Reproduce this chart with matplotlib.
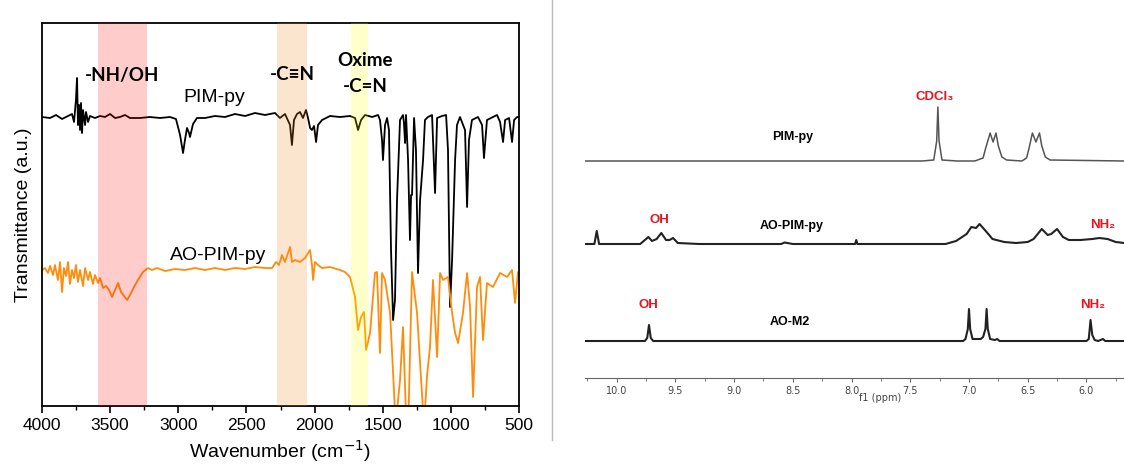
#IR and 1H NMR spectra of PIM-py / AO-PIM-py

import matplotlib
matplotlib.use("Agg")
import matplotlib.pyplot as plt
from matplotlib.lines import Line2D

#FTIR data, wavenumber (cm-1) and transmittance (a.u.)
pim_wn = [4000, 3941, 3897, 3853, 3809, 3780, 3765, 3751, 3743, 3736, 3728, 3721, 3714, 3706,
          3699, 3684, 3677, 3662, 3648, 3611, 3574, 3538, 3501, 3464, 3428, 3391, 3354, 3281,
          3208, 3134, 3061, 3017, 2987, 2965, 2951, 2936, 2921, 2914, 2892, 2863, 2804, 2731,
          2657, 2584, 2510, 2437, 2364, 2290, 2254, 2217, 2180, 2166, 2151, 2129, 2107, 2085,
          2063, 2048, 2033, 2019, 2004, 1989, 1975, 1945, 1887, 1813, 1740, 1703, 1681, 1659,
          1630, 1578, 1534, 1520, 1505, 1498, 1483, 1468, 1454, 1439, 1424, 1410, 1395, 1373,
          1351, 1344, 1336, 1329, 1314, 1300, 1292, 1285, 1278, 1270, 1256, 1241, 1226, 1204,
          1190, 1168, 1138, 1116, 1101, 1065, 1035, 1021, 1006, 991, 969, 955, 933, 896, 881,
          867, 845, 801, 771, 757, 735, 691, 661, 639, 617, 602, 573, 551, 536, 514, 500]
pim_t = [289, 288, 291, 287, 290, 292, 284, 306, 328, 281, 301, 276, 303, 273,
         296, 281, 294, 284, 290, 288, 290, 289, 292, 288, 289, 291, 288, 288,
         289, 288, 289, 287, 271, 253, 266, 278, 273, 269, 282, 288, 288, 290,
         289, 292, 290, 293, 291, 293, 288, 292, 281, 261, 286, 292, 294, 288,
         296, 288, 278, 276, 280, 264, 281, 286, 290, 289, 290, 288, 276, 286,
         291, 289, 291, 286, 266, 246, 281, 288, 276, 156, 86, 106, 206, 286,
         291, 283, 263, 291, 246, 166, 211, 211, 246, 288, 256, 133, 206, 246,
         286, 289, 291, 213, 288, 290, 291, 256, 99, 146, 246, 281, 289, 276, 199,
         266, 286, 289, 281, 248, 286, 289, 291, 284, 264, 286, 288, 264, 286, 289, 289]

ao_wn = [4000, 3978, 3956, 3941, 3919, 3905, 3883, 3868, 3853, 3839, 3824, 3809, 3795, 3780,
         3765, 3751, 3736, 3721, 3699, 3684, 3662, 3648, 3626, 3611, 3589, 3574, 3552, 3530,
         3508, 3486, 3464, 3442, 3420, 3398, 3376, 3354, 3325, 3296, 3259, 3222, 3193, 3156,
         3097, 3024, 2951, 2877, 2804, 2731, 2657, 2584, 2510, 2437, 2364, 2312, 2283, 2261,
         2239, 2217, 2180, 2166, 2143, 2107, 2070, 2033, 2019, 2011, 1997, 1975, 1945, 1887,
         1813, 1777, 1740, 1703, 1681, 1659, 1637, 1622, 1593, 1557, 1542, 1520, 1505, 1483,
         1446, 1410, 1395, 1373, 1351, 1330, 1310, 1285, 1248, 1226, 1204, 1190, 1175, 1153,
         1131, 1101, 1079, 1057, 1021, 991, 969, 947, 911, 881, 859, 837, 808, 786, 764, 735,
         691, 639, 588, 551, 529, 507, 500]
ao_t = [136, 138, 133, 140, 131, 141, 126, 144, 114, 138, 130, 144, 122, 136,
        128, 141, 124, 136, 120, 138, 126, 134, 122, 131, 123, 128, 118, 120,
        116, 109, 116, 123, 114, 110, 106, 111, 119, 126, 134, 138, 136, 138,
        135, 137, 136, 138, 136, 138, 136, 138, 137, 139, 138, 138, 144, 141,
        151, 144, 159, 144, 146, 144, 148, 156, 141, 126, 144, 141, 138, 139,
        136, 134, 129, 109, 76, 89, 94, 56, 73, 133, 134, 53, 133, 126,
        93, -5, -5, 26, 79, -5, -5, 134, 93, 43, -5, -5, 30, 59,
        126, 49, 133, 126, 129, 93, 73, 63, 93, 133, 99, 9, 119, 129, 66, 123,
        119, 133, 129, 136, 103, 134, 133]

#shaded bands (cm-1)
bands = [(3590, 3230), (2275, 2055), (1730, 1610)]
band_colors = ['red', '#f08c28', 'yellow']
band_alpha = [0.2, 0.22, 0.2]

#1H NMR data, ppm and height above each baseline
nmr1_ppm = [10.27, 7.40, 7.30, 7.275, 7.265, 7.255, 7.23, 7.10, 6.95, 6.88, 6.86, 6.82, 6.795,
            6.77, 6.75, 6.72, 6.68, 6.55, 6.51, 6.49, 6.46, 6.43, 6.40, 6.38, 6.35, 6.31, 5.68]
nmr1_h = [0, 0, 1, 20, 54, 20, 1, 0, 0, 3, 12, 28, 19,
          28, 15, 4, 1, 0, 3, 12, 28, 19, 28, 15, 4, 1, 0]

nmr2_ppm = [10.27, 10.19, 10.17, 10.15, 9.80, 9.75, 9.73, 9.70, 9.66, 9.62, 9.58, 9.55, 9.52,
            9.48, 9.30, 8.60, 8.57, 8.50, 7.97, 7.96, 7.95, 7.20, 7.11, 7.02, 6.98, 6.94, 6.91,
            6.85, 6.80, 6.70, 6.60, 6.50, 6.45, 6.38, 6.33, 6.30, 6.25, 6.20, 6.15, 6.05, 5.95,
            5.89, 5.82, 5.75, 5.68]
nmr2_h = [0, 0, 13, 0, 0, 5, 7, 3, 5, 11, 4, 4, 6,
          1, 0, 0, 1.5, 0, 0, 4, 0, 0, 3, 10, 17, 16, 20,
          12, 5, 2, 1, 2, 5, 15, 9, 10, 15, 7, 4, 4, 5,
          6, 5, 2, 1]

nmr3_ppm = [10.27, 9.76, 9.74, 9.725, 9.71, 9.69, 7.05, 7.03, 7.01, 7.00, 6.99, 6.97, 6.90,
            6.88, 6.86, 6.85, 6.84, 6.82, 6.78, 6.76, 6.74, 6.00, 5.98, 5.965, 5.95, 5.93,
            5.90, 5.86, 5.84, 5.68]
nmr3_h = [0, 0, 3, 16, 3, 0, 0, 2, 12, 32, 12, 2, 2,
          4, 12, 32, 12, 2, 1, 2, 0, 0, 2, 21, 6, 1,
          0, 2, 0, 0]

nmr_offsets = [217, 134, 37]

fig = plt.figure(figsize=(11.24, 4.68), dpi=100)

#### left panel: FTIR
ax = fig.add_axes([42/1124, 62/468, 477/1124, 383/468])
ax.plot(pim_wn, pim_t, color='black', linewidth=1.3)
ax.plot(ao_wn, ao_t, color='#ff8c0a', linewidth=1.3)
for (a, b), c, al in zip(bands, band_colors, band_alpha):
    ax.axvspan(a, b, color=c, alpha=al, linewidth=0, zorder=3)

ax.set_xlim(4000, 500)
ax.set_ylim(0, 383)
ax.set_xticks([4000, 3500, 3000, 2500, 2000, 1500, 1000, 500])
ax.set_xticks([3750, 3250, 2750, 2250, 1750, 1250, 750], minor=True)
ax.set_yticks([])
ax.tick_params(axis='x', direction='out', length=5, width=1.2, labelsize=12.5)
ax.tick_params(axis='x', which='minor', direction='out', length=3, width=1)
for sp in ax.spines.values():
    sp.set_linewidth(1.3)
for lab in ax.get_xticklabels():
    lab.set_family('Liberation Sans')
ax.set_xlabel('Wavenumber (cm$^{-1}$)', fontsize=14, family='Liberation Sans')
ax.xaxis.set_label_coords(0.5, -0.085)
ax.set_ylabel('Transmittance (a.u.)', fontsize=14, family='Liberation Sans')
ax.yaxis.set_label_coords(-0.022, 0.5)

bold = dict(fontsize=13.5, fontweight='bold', ha='center', va='center',
            family=['Lato', 'DejaVu Sans'])
ax.text(3413, 331, '-NH/OH', **bold)
ax.text(2165, 331, '-C\u2261N', **bold)
ax.text(1630, 346, 'Oxime', **bold)
ax.text(1630, 320, '-C=N', **bold)
ax.text(2738, 308, 'PIM-py', fontsize=14, ha='center', va='center', family='Liberation Sans')
ax.text(2709, 151, 'AO-PIM-py', fontsize=14, ha='center', va='center', family='Liberation Sans')

#separator
fig.add_artist(Line2D([552/1124, 552/1124], [1.0, 28/468], color='#bbbbbb', linewidth=1))

#### right panel: NMR
bx = fig.add_axes([585/1124, 90/468, 539/1124, 298/468])
bx.plot(nmr1_ppm, [h + nmr_offsets[0] for h in nmr1_h], color='#555555', linewidth=1.1)
bx.plot(nmr2_ppm, [h + nmr_offsets[1] for h in nmr2_h], color='#222222', linewidth=1.5)
bx.plot(nmr3_ppm, [h + nmr_offsets[2] for h in nmr3_h], color='#222222', linewidth=1.5)
bx.set_xlim(10.27, 5.68)
bx.set_ylim(0, 298)
for s in ['top', 'left', 'right']:
    bx.spines[s].set_visible(False)
bx.spines['bottom'].set_color('#666666')
bx.set_yticks([])
bx.set_xticks([10.0, 9.5, 9.0, 8.5, 8.0, 7.5, 7.0, 6.5, 6.0])
bx.set_xticklabels(['10.0', '9.5', '9.0', '8.5', '8.0', '7.5', '7.0', '6.5', '6.0'])
bx.set_xticks([10.25, 9.75, 9.25, 8.75, 8.25, 7.75, 7.25, 6.75, 6.25, 5.75], minor=True)
bx.tick_params(axis='x', direction='out', length=3, color='#666666', labelsize=7,
               labelcolor='#444444', pad=3)
bx.tick_params(axis='x', which='minor', direction='out', length=2, color='#666666')
bx.text(7.94, -20, 'f1 (ppm)', fontsize=7, color='#444444', ha='left', va='center')

nm = dict(fontsize=9, fontweight='bold', ha='center', va='center', family='Liberation Sans')
red = dict(fontsize=9.5, fontweight='bold', ha='center', va='center', color='#e8141e',
           family=['Liberation Sans', 'DejaVu Sans'])
bx.text(8.50, 241, 'PIM-py', **nm)
bx.text(8.51, 152, 'AO-PIM-py', **nm)
bx.text(8.53, 56, 'AO-M2', **nm)
bx.text(7.29, 281, 'CDCl\u2083', **red)
bx.text(9.64, 158, 'OH', **red)
bx.text(5.86, 153, 'NH\u2082', **red)
bx.text(9.73, 73, 'OH', **red)
bx.text(5.95, 73, 'NH\u2082', **red)

plt.savefig('out.png', dpi=100)
